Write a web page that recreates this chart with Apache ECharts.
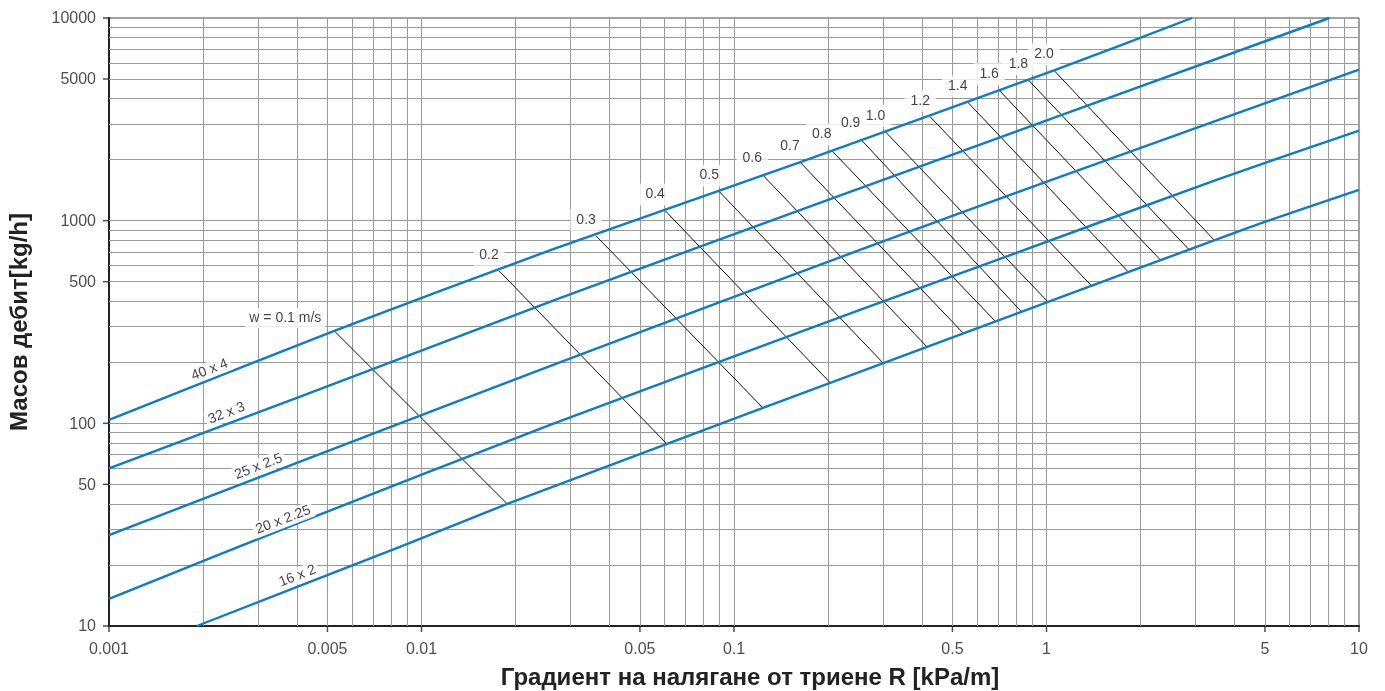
<!DOCTYPE html>
<html><head><meta charset="utf-8">
<script src="https://cdn.jsdelivr.net/npm/echarts@6/dist/echarts.min.js"></script>
<style>html,body{margin:0;padding:0;background:#fff}#c{width:1385px;height:691px}</style>
</head><body><div id="c"></div>
<script>
// ---- axis ticks ----
const xTickValues = [0.001, 0.005, 0.01, 0.05, 0.1, 0.5, 1, 5, 10];
const xTickLabels = ['0.001', '0.005', '0.01', '0.05', '0.1', '0.5', '1', '5', '10'];
const yTickValues = [10, 50, 100, 500, 1000, 5000, 10000];
const yTickLabels = ['10', '50', '100', '500', '1000', '5000', '10000'];
const xGridValues = [0.002,0.003,0.004,0.005,0.006,0.007,0.008,0.009,
  0.01,0.02,0.03,0.04,0.05,0.06,0.07,0.08,0.09,
  0.1,0.2,0.3,0.4,0.5,0.6,0.7,0.8,0.9,
  1,2,3,4,5,6,7,8,9];
const yGridValues = [20,30,40,50,60,70,80,90,
  100,200,300,400,500,600,700,800,900,
  1000,2000,3000,4000,5000,6000,7000,8000,9000];

// ---- pipe curves [R kPa/m, mass flow kg/h] ----
const pipeNames = ['40 x 4', '32 x 3', '25 x 2.5', '20 x 2.25', '16 x 2'];
const pipe40x4  = [[0.001,104],[0.00526,285.8],[0.0264,723],[0.163,1944],[1.057,5512],[2.92,10000]];
const pipe32x3  = [[0.001,60.0],[0.00409,135.5],[0.0277,414.5],[0.200,1267],[8.04,10000]];
const pipe25x25 = [[0.001,28.1],[0.00409,64.7],[0.0277,200],[0.253,718],[1.039,1590],[10,5557]];
const pipe20x225= [[0.001,13.6],[0.0044,34.0],[0.0258,98.2],[0.253,363],[0.71,648],[3.5,1590],[10,2784]];
const pipe16x2  = [[0.00191,10],[0.00853,24.6],[0.01882,40.0],[0.1238,119.1],[0.864,363],[4.48,929],[10,1419]];
const pipeLabelAt = [[0.00210,183.5],[0.00238,112.2],[0.00301,61.1],[0.00361,33.4],[0.00401,17.65]];

// ---- constant velocity lines ----
const velocityNames = ['w = 0.1 m/s','0.2','0.3','0.4','0.5','0.6','0.7','0.8','0.9','1.0','1.2','1.4','1.6','1.8','2.0'];
const velocityTop = [[0.00526,285.8],[0.0177,566],[0.0362,841],[0.0602,1121],[0.0897,1392],[0.1232,1689],
  [0.1627,1944],[0.2054,2218],[0.2542,2525],[0.3053,2743],[0.4245,3253],[0.5597,3840],[0.7054,4402],[0.875,4943],[1.057,5512]];
const velocityBottom = [[0.01882,40.0],[0.0610,79.1],[0.1238,119.1],[0.2039,157.7],[0.2998,198.7],[0.4146,238.3],
  [0.5405,279.4],[0.684,320.2],[0.828,358],[1.013,396],[1.395,476.7],[1.827,558.8],[2.325,635.3],[2.858,720],[3.443,801]];

const xMin = 0.001, xMax = 10, yMin = 10, yMax = 10000;
const FONT = '"Liberation Sans", Arial, Helvetica, sans-serif';
const BLUE = '#0b7dc6';

const pipes = [pipe40x4, pipe32x3, pipe25x25, pipe20x225, pipe16x2];

const gridLines = [];
xGridValues.forEach(v => gridLines.push({coords: [[v, yMin], [v, yMax]]}));
yGridValues.forEach(v => gridLines.push({coords: [[xMin, v], [xMax, v]]}));

const velLines = velocityTop.map((p, i) => ({coords: [p, velocityBottom[i]]}));

const series = [];
series.push({type: 'lines', coordinateSystem: 'cartesian2d', silent: true, z: 1,
  lineStyle: {color: '#999', width: 1, opacity: 1}, data: gridLines});
series.push({type: 'lines', coordinateSystem: 'cartesian2d', silent: true, z: 3,
  lineStyle: {color: '#111', width: 1, opacity: 1}, data: velLines});
pipes.forEach((d, i) => series.push({type: 'line', name: pipeNames[i], data: d, showSymbol: false, symbol: 'none',
  silent: true, z: 4, clip: true, smooth: 0.2, lineStyle: {color: BLUE, width: 2.4}}));

// velocity labels
series.push({type: 'scatter', silent: true, z: 6, clip: false, symbolSize: 0,
  data: velocityTop.map((p, i) => ({value: p, name: velocityNames[i],
    label: i === 0 ? {offset: [-49, -13], padding: [3, 4]} : {}})),
  label: {show: true, position: 'inside', offset: [-10, -16], formatter: p => p.name,
    fontFamily: FONT, fontSize: 14, color: '#111', backgroundColor: '#fff', padding: [4, 6]}});

// pipe labels
series.push({type: 'scatter', silent: true, z: 6, clip: false, symbolSize: 0,
  data: pipeLabelAt.map((p, i) => ({value: p, name: pipeNames[i]})),
  label: {show: true, position: 'inside', rotate: 21, formatter: p => p.name,
    fontFamily: FONT, fontSize: 14, color: '#111', backgroundColor: '#fff', padding: [1, 3]}});

// tick marks and tick labels
series.push({type: 'scatter', silent: true, z: 7, clip: false, symbol: 'rect', symbolSize: [1.5, 6], symbolOffset: [0, 3],
  itemStyle: {color: '#222'}, data: xTickValues.map(v => [v, yMin])});
series.push({type: 'scatter', silent: true, z: 7, clip: false, symbol: 'rect', symbolSize: [6, 1.5], symbolOffset: [-3, 0],
  itemStyle: {color: '#222'}, data: yTickValues.map(v => [xMin, v])});
series.push({type: 'scatter', silent: true, z: 7, clip: false, symbolSize: 0,
  data: xTickValues.map((v, i) => ({value: [v, yMin], name: xTickLabels[i]})),
  label: {show: true, position: 'bottom', distance: 16, formatter: p => p.name,
    fontFamily: FONT, fontSize: 16, color: '#222'}});
series.push({type: 'scatter', silent: true, z: 7, clip: false, symbolSize: 0,
  data: yTickValues.map((v, i) => ({value: [xMin, v], name: yTickLabels[i]})),
  label: {show: true, position: 'left', distance: 13, offset: [0, 1], formatter: p => p.name,
    fontFamily: FONT, fontSize: 16, color: '#222'}});

const chart = echarts.init(document.getElementById('c'), null, {renderer: 'canvas'});
chart.setOption({
  animation: false,
  backgroundColor: '#fff',
  textStyle: {fontFamily: FONT},
  grid: {left: 109, right: 26, top: 18, bottom: 65, show: true, borderColor: '#444', borderWidth: 1,
    backgroundColor: 'transparent', containLabel: false, outerBoundsMode: 'none'},
  xAxis: {type: 'log', logBase: 10, min: xMin, max: xMax,
    axisLine: {show: true, onZero: false, lineStyle: {color: '#222', width: 2}},
    axisTick: {show: false}, axisLabel: {show: false}, splitLine: {show: false}, minorTick: {show: false},
    name: 'Градиент на налягане от триене R [kPa/m]', nameLocation: 'middle', nameGap: 40,
    nameTextStyle: {fontFamily: FONT, fontWeight: 'bold', fontSize: 24, color: '#222', padding: [0, 0, 0, 32]}},
  yAxis: {type: 'log', logBase: 10, min: yMin, max: yMax,
    axisLine: {show: true, onZero: false, lineStyle: {color: '#222', width: 2}},
    axisTick: {show: false}, axisLabel: {show: false}, splitLine: {show: false}, minorTick: {show: false},
    name: 'Масов дебит[kg/h]', nameLocation: 'middle', nameGap: 77,
    nameTextStyle: {fontFamily: FONT, fontWeight: 'bold', fontSize: 24, color: '#222'}},
  series: series
});
</script>
</body></html>
